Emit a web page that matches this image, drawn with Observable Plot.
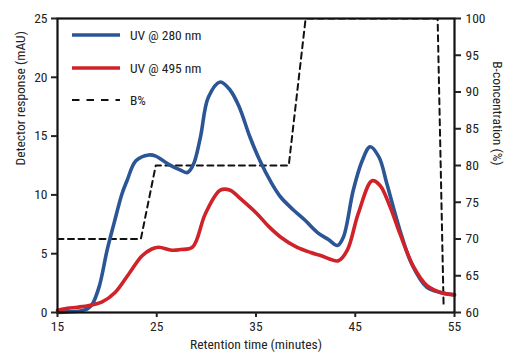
<!DOCTYPE html>
<html><head><meta charset="utf-8">
<script src="https://cdn.jsdelivr.net/npm/d3@7"></script>
<script src="https://cdn.jsdelivr.net/npm/@observablehq/plot@0.6"></script>
<style>
body{margin:0;background:#fff;}
#wrap{position:relative;width:506px;height:354px;font-family:"Liberation Sans Narrow","Arial Narrow","Roboto Condensed",Roboto,sans-serif;color:#222;}
.leg{position:absolute;left:72px;height:16px;display:flex;align-items:center;font-size:13.5px;}
.leg svg{margin-right:10px;}
</style></head><body><div id="wrap"></div>
<script>
// UV @ 280 nm trace
const uv280Time = [15,16,17,18,18.5,19.2,20,20.7,21.5,22,22.9,24.2,24.9,26.2,27.4,28.1,28.7,29.4,30.2,31.4,32.4,33.3,34.4,35.4,36.5,37.5,38.8,40.0,41.2,42.3,43.2,43.8,44.8,45.7,46.5,47.4,48.2,49.5,50.7,52.2,53.6,55];
const uv280Value = [0,0.05,0.1,0.3,0.7,2.2,5.3,7.6,10.1,11.2,12.9,13.4,13.3,12.6,12.1,11.9,12.6,14.9,18.3,19.6,18.9,17.5,14.9,12.9,11.1,9.8,8.7,7.8,6.8,6.2,5.7,6.4,10.4,12.9,14.1,13.2,10.9,7.0,4.1,2.15,1.7,1.5];
// UV @ 495 nm trace
const uv495Time = [15,16,17,18.2,19.5,20.8,22.2,23.5,24.5,25.2,26.5,27.4,28.6,29.9,31.4,32.4,33.4,35.1,36.3,37.5,39.1,40.5,41.5,43.3,44.2,45.3,46.7,47.5,48.5,49.5,50.9,52.2,53.6,55];
const uv495Value = [0.2,0.35,0.45,0.6,0.9,1.7,3.3,4.8,5.4,5.55,5.3,5.35,5.55,8.4,10.4,10.4,9.7,8.4,7.3,6.4,5.55,5.1,4.85,4.4,5.3,8.4,11.2,10.8,9.0,6.7,3.85,2.3,1.7,1.5];
// B% gradient
const bTime = [15,23.4,24.9,38.3,40.0,53.3,53.9];
const bPercent = [70,70,80,80,100,100,61];
// tick labels
const xTicks = [15,25,35,45,55];
const yTicks = [0,5,10,15,20,25];
const bTicks = [60,65,70,75,80,85,90,95,100];
const labels = {x:"Retention time (minutes)", y:"Detector response (mAU)", y2:"B-concentration (%)"};
const seriesNames = ["UV @ 280 nm","UV @ 495 nm","B%"];
const colors = ["#2c5596","#cf2329","#111"];

const bToY = b => (b - 60) * 25 / 40;
const yToB = y => Math.round(y * 40 / 25 + 60);

const d280 = uv280Time.map((t,i)=>({t, v:uv280Value[i]}));
const d495 = uv495Time.map((t,i)=>({t, v:uv495Value[i]}));
const dB = bTime.map((t,i)=>({t, v:bToY(bPercent[i])}));

const font = '"Liberation Sans Narrow","Arial Narrow","Roboto Condensed",Roboto,sans-serif';
const chart = Plot.plot({
  width:506, height:354,
  marginLeft:57, marginRight:52, marginTop:18, marginBottom:42,
  style:{fontFamily:font, fontSize:"13.5px", color:"#222", background:"white", overflow:"visible"},
  x:{domain:[15,55], label:null},
  y:{domain:[0,25], label:null},
  marks:[
    Plot.line(dB,{x:"t", y:"v", stroke:colors[2], strokeWidth:2, strokeDasharray:"6,4.5", clip:"frame"}),
    Plot.line(d280,{x:"t", y:"v", stroke:colors[0], strokeWidth:3.6, curve:"catmull-rom", strokeLinejoin:"round"}),
    Plot.line(d495,{x:"t", y:"v", stroke:colors[1], strokeWidth:3.6, curve:"catmull-rom", strokeLinejoin:"round"}),
    Plot.frame({stroke:"#111", strokeWidth:2.2}),
    Plot.axisY(yTicks,{anchor:"left", tickSize:6, tickPadding:4, strokeWidth:2, label:null}),
    Plot.axisY(bTicks.map(bToY),{anchor:"right", tickSize:6, tickPadding:5, strokeWidth:2, tickFormat:yToB, label:null}),
    Plot.axisX(xTicks,{anchor:"bottom", tickSize:5, tickPadding:4, strokeWidth:2, label:null}),
    Plot.text([labels.y],{frameAnchor:"left", dx:-37, rotate:-90, text:d=>d, fontSize:13.5, fill:"#222"}),
    Plot.text([labels.y2],{frameAnchor:"right", dx:43, rotate:90, text:d=>d, fontSize:13.5, fill:"#222"}),
    Plot.text([labels.x],{frameAnchor:"bottom", dy:36, text:d=>d, fontSize:13.5, fill:"#222"})
  ]
});
const wrap = document.getElementById("wrap");
wrap.appendChild(chart);

// legend (HTML overlay)
const legTops = [27, 60, 92];
seriesNames.forEach((name,i)=>{
  const div = document.createElement("div");
  div.className = "leg";
  div.style.top = legTops[i] + "px";
  const dash = i === 2 ? 'stroke-dasharray="7.5,7" stroke-width="2"' : 'stroke-width="3.6"';
  div.innerHTML = `<svg width="48" height="8"><line x1="0" x2="48" y1="4" y2="4" stroke="${colors[i]}" ${dash}/></svg><span>${name}</span>`;
  wrap.appendChild(div);
});
</script></body></html>
